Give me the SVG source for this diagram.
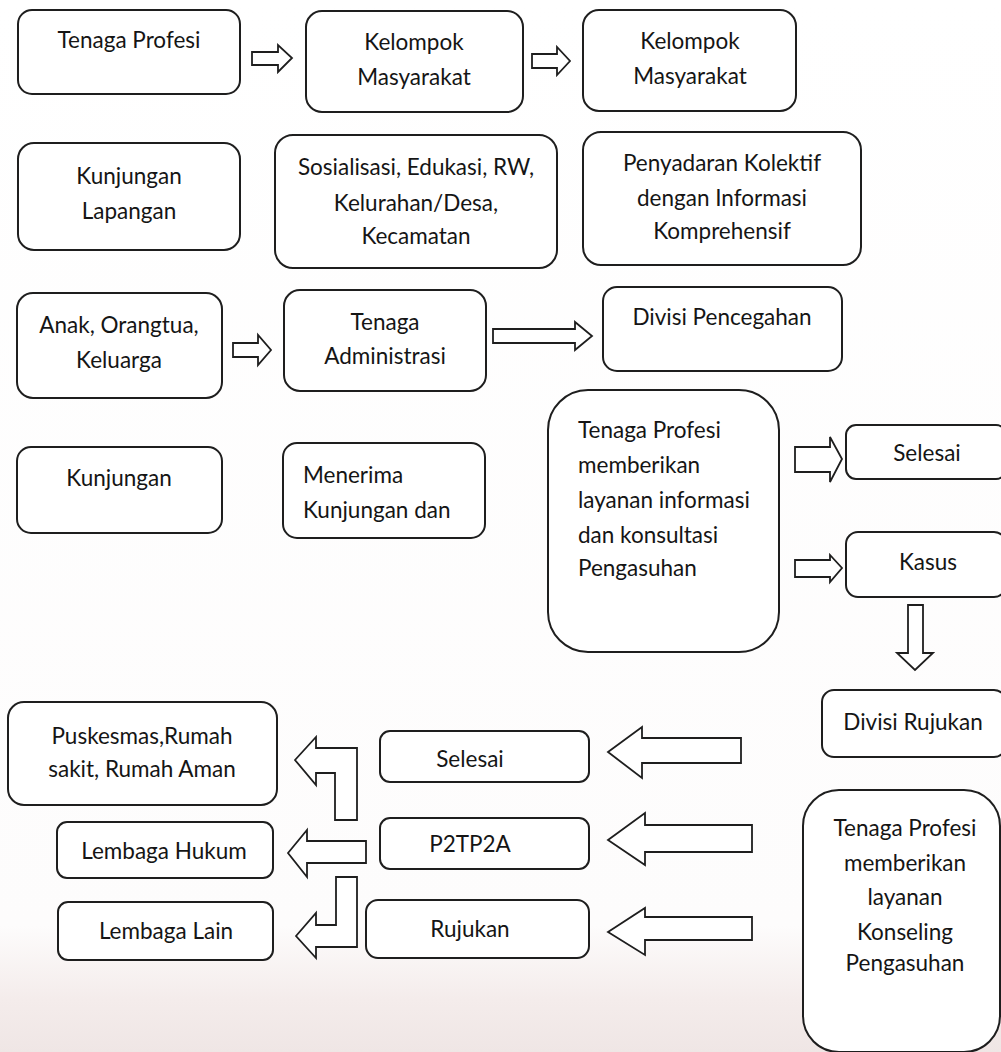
<svg xmlns="http://www.w3.org/2000/svg" width="1001" height="1052" viewBox="0 0 1001 1052">
<defs>
<linearGradient id="bg" x1="0" y1="0" x2="0" y2="1">
<stop offset="0" stop-color="#ffffff"/>
<stop offset="0.88" stop-color="#fdfcfc"/>
<stop offset="0.95" stop-color="#f4eceb"/>
<stop offset="1" stop-color="#efe6e5"/>
</linearGradient>
<style>
.b{fill:#ffffff;stroke:#1e1e1e;stroke-width:2}
.a{fill:#ffffff;stroke:#1e1e1e;stroke-width:1.8;stroke-linejoin:miter}
text{font-family:Lato,"Open Sans","Liberation Sans",sans-serif;font-size:22.5px;fill:#151515}
.c{text-anchor:middle}
</style>
</defs>
<rect x="0" y="0" width="1001" height="1052" fill="url(#bg)"/>

<g id="n1"><rect class="b" x="18" y="10" width="222" height="84" rx="14"/><text class="c" x="129" y="48">Tenaga Profesi</text></g>
<g id="n2"><rect class="b" x="306" y="11" width="217" height="101" rx="16"/><text class="c" x="414" y="50">Kelompok</text><text class="c" x="414" y="85">Masyarakat</text></g>
<g id="n3"><rect class="b" x="583" y="10" width="213" height="101" rx="16"/><text class="c" x="690" y="49">Kelompok</text><text class="c" x="690" y="84">Masyarakat</text></g>

<g id="n4"><rect class="b" x="18" y="143" width="222" height="107" rx="16"/><text class="c" x="129" y="184">Kunjungan</text><text class="c" x="129" y="219">Lapangan</text></g>
<g id="n5"><rect class="b" x="275" y="135" width="282" height="133" rx="18"/><text class="c" x="416" y="175">Sosialisasi, Edukasi, RW,</text><text class="c" x="416" y="211">Kelurahan/Desa,</text><text class="c" x="416" y="244">Kecamatan</text></g>
<g id="n6"><rect class="b" x="583" y="132" width="278" height="133" rx="18"/><text class="c" x="722" y="171">Penyadaran Kolektif</text><text class="c" x="722" y="206">dengan Informasi</text><text class="c" x="722" y="239">Komprehensif</text></g>

<g id="n7"><rect class="b" x="17" y="293" width="205" height="105" rx="16"/><text class="c" x="119" y="333">Anak, Orangtua,</text><text class="c" x="119" y="368">Keluarga</text></g>
<g id="n8"><rect class="b" x="284" y="290" width="202" height="101" rx="16"/><text class="c" x="385" y="330">Tenaga</text><text class="c" x="385" y="364">Administrasi</text></g>
<g id="n9"><rect class="b" x="603" y="287" width="239" height="84" rx="14"/><text class="c" x="722" y="325">Divisi Pencegahan</text></g>

<g id="n10"><rect class="b" x="17" y="447" width="205" height="86" rx="14"/><text class="c" x="119" y="486">Kunjungan</text></g>
<g id="n11"><rect class="b" x="283" y="443" width="202" height="95" rx="14"/><text x="303" y="483">Menerima</text><text x="303" y="518">Kunjungan dan</text></g>
<g id="n12"><rect class="b" x="548" y="390" width="231" height="262" rx="40"/><text x="578" y="438">Tenaga Profesi</text><text x="578" y="473">memberikan</text><text x="578" y="508">layanan informasi</text><text x="578" y="543">dan konsultasi</text><text x="578" y="576">Pengasuhan</text></g>
<g id="n13"><rect class="b" x="846" y="425" width="160" height="54" rx="10"/><text class="c" x="927" y="461">Selesai</text></g>
<g id="n14"><rect class="b" x="846" y="532" width="160" height="65" rx="12"/><text class="c" x="928" y="570">Kasus</text></g>
<g id="n15"><rect class="b" x="822" y="690" width="184" height="67" rx="12"/><text class="c" x="913" y="730">Divisi Rujukan</text></g>
<g id="n16"><rect class="b" x="803" y="790" width="197" height="262" rx="36"/><text class="c" x="905" y="836">Tenaga Profesi</text><text class="c" x="905" y="871">memberikan</text><text class="c" x="905" y="905">layanan</text><text class="c" x="905" y="940">Konseling</text><text class="c" x="905" y="971">Pengasuhan</text></g>

<g id="n17"><rect class="b" x="380" y="731" width="209" height="51" rx="10"/><text class="c" x="470" y="767">Selesai</text></g>
<g id="n18"><rect class="b" x="380" y="818" width="209" height="51" rx="10"/><text class="c" x="470" y="852">P2TP2A</text></g>
<g id="n19"><rect class="b" x="366" y="900" width="223" height="58" rx="12"/><text class="c" x="470" y="937">Rujukan</text></g>

<g id="n20"><rect class="b" x="8" y="702" width="269" height="103" rx="16"/><text class="c" x="142" y="744">Puskesmas,Rumah</text><text class="c" x="142" y="777">sakit, Rumah Aman</text></g>
<g id="n21"><rect class="b" x="57" y="822" width="216" height="56" rx="10"/><text class="c" x="164" y="859">Lembaga Hukum</text></g>
<g id="n22"><rect class="b" x="58" y="902" width="215" height="58" rx="10"/><text class="c" x="166" y="939">Lembaga Lain</text></g>

<g id="connectors">
<polygon class="a" points="252,52 278,52 278,45 292,58 278,72 278,65 252,65"/>
<polygon class="a" points="532,54 557,54 557,47 570,61 557,75 557,68 532,68"/>
<polygon class="a" points="233,343 258,343 258,335 271,350 258,365 258,357 233,357"/>
<polygon class="a" points="493,329 575,329 575,322 592,336 575,350 575,343 493,343"/>
<polygon class="a" points="795,447 830,447 830,437 842,459 830,482 830,472 795,472"/>
<polygon class="a" points="795,560 830,560 830,555 842,568 830,582 830,577 795,577"/>
<polygon class="a" points="908,605 923,605 923,653 933,653 915,670 897,653 908,653"/>
<polygon class="a" points="608,752 642,727 642,738 741,738 741,763 642,763 642,778"/>
<polygon class="a" points="608,840 645,813 645,825 752,825 752,852 645,852 645,865"/>
<polygon class="a" points="608,932 645,908 645,917 752,917 752,940 645,940 645,955"/>
<polygon class="a" points="295,760 316,737 316,748 357,748 357,820 335,820 335,773 316,773 316,785"/>
<polygon class="a" points="288,853 307,830 307,841 366,841 366,863 307,863 307,877"/>
<polygon class="a" points="296,936 316,913 316,925 336,925 336,877 357,877 357,947 316,947 316,958"/>
</g>
</svg>
